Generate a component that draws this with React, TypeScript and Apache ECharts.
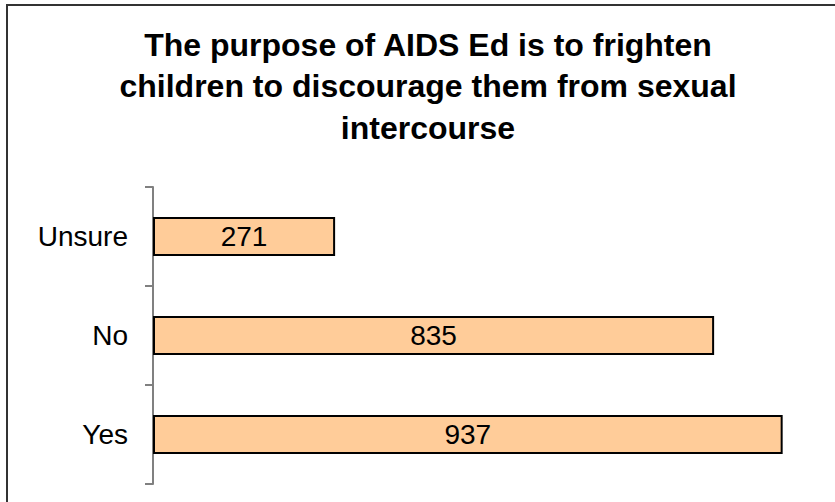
import React, { useEffect, useRef } from "react";
import * as echarts from "echarts";

const categories = ["Yes", "No", "Unsure"];
const values = [937, 835, 271];
const titleText = "The purpose of AIDS Ed is to frighten\nchildren to discourage them from sexual\nintercourse";

export default function App() {
  const ref = useRef<HTMLDivElement>(null);
  useEffect(() => {
    document.body.style.margin = "0";
    const chart = echarts.init(ref.current!, null, { renderer: "svg" });
    chart.setOption({
      animation: false,
      backgroundColor: "#ffffff",
      title: {
        text: titleText,
        left: 428,
        textAlign: "center",
        top: 24,
        padding: 0,
        textStyle: {
          fontFamily: "Liberation Sans, Arial, sans-serif",
          fontWeight: "bold",
          fontSize: 32,
          lineHeight: 41.5,
          color: "#000000",
        },
      },
      graphic: [
        {
          type: "rect",
          shape: { x: 7, y: 5, width: 900, height: 600 },
          style: { fill: "none", stroke: "#333333", lineWidth: 2 },
          silent: true,
        },
      ],
      grid: { left: 153, top: 187, width: 672, height: 297 },
      xAxis: {
        type: "value",
        min: 0,
        max: 1000,
        show: false,
      },
      yAxis: {
        type: "category",
        data: categories,
        axisLine: { show: true, lineStyle: { color: "#808080", width: 2 } },
        axisTick: { show: true, length: 8, lineStyle: { color: "#808080", width: 2 } },
        axisLabel: {
          fontFamily: "Liberation Sans, Arial, sans-serif",
          fontSize: 28,
          color: "#000000",
          margin: 25,
        },
      },
      series: [
        {
          type: "bar",
          data: values,
          barWidth: 39,
          itemStyle: { color: "#FFCC99", borderColor: "#000000", borderWidth: 2 },
          label: {
            show: true,
            position: "inside",
            fontFamily: "Liberation Sans, Arial, sans-serif",
            fontSize: 28,
            color: "#000000",
          },
        },
      ],
    });
    return () => chart.dispose();
  }, []);
  return <div ref={ref} style={{ width: 835, height: 502 }} />;
}
